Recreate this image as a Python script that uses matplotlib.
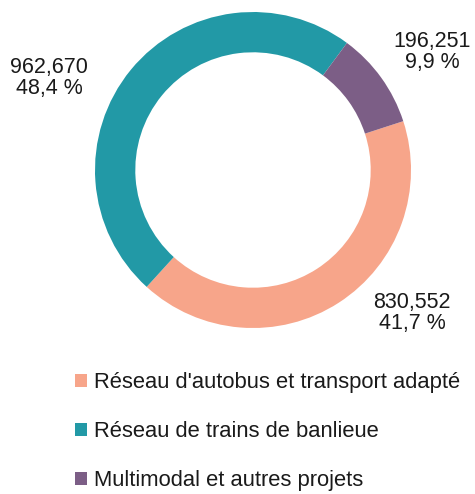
import matplotlib
matplotlib.use("Agg")
import matplotlib.pyplot as plt

plt.rcParams["font.family"] = ["Liberation Sans", "DejaVu Sans"]

# Data
categories = ["Réseau d'autobus et transport adapté",
              "Réseau de trains de banlieue",
              "Multimodal et autres projets"]
values = [830552, 962670, 196251]
value_labels = ["830,552", "962,670", "196,251"]
pct_labels = ["41,7 %", "48,4 %", "9,9 %"]
colors = ["#F7A58A", "#2299A6", "#7C5E86"]

W, H = 475, 494
fig = plt.figure(figsize=(W / 100, H / 100), dpi=100)
ax = fig.add_axes([0, 0, 1, 1])

# donut centre (253,170) px, outer radius 158 px
cx, cy, r = 253, 170, 158
wedges, _ = ax.pie(values, colors=colors, startangle=18, counterclock=False,
                   radius=1, wedgeprops=dict(width=0.255, edgecolor="none"))
ax.set_xlim(-cx / r, (W - cx) / r)
ax.set_ylim(-(H - cy) / r, cy / r)
ax.set_aspect("auto")
ax.axis("off")

# data labels (pixel positions of text centres)
label_pos = [(412, 313), (49, 78), (432, 52)]
for (px, py), v, p in zip(label_pos, value_labels, pct_labels):
    fig.text(px / W, 1 - py / H, v + "\n" + p, ha="center", va="center",
             fontsize=15.5, linespacing=1.05, color="#1a1a1a")

leg = fig.legend(wedges, categories, loc="upper left",
                 bbox_to_anchor=(75 / W, 1 - 372 / H), frameon=False,
                 fontsize=15.8, handlelength=0.55, handleheight=0.55,
                 handletextpad=0.3, labelspacing=1.28, borderpad=0,
                 borderaxespad=0)
for t in leg.get_texts():
    t.set_color("#1a1a1a")

fig.savefig("out.png", dpi=100)
